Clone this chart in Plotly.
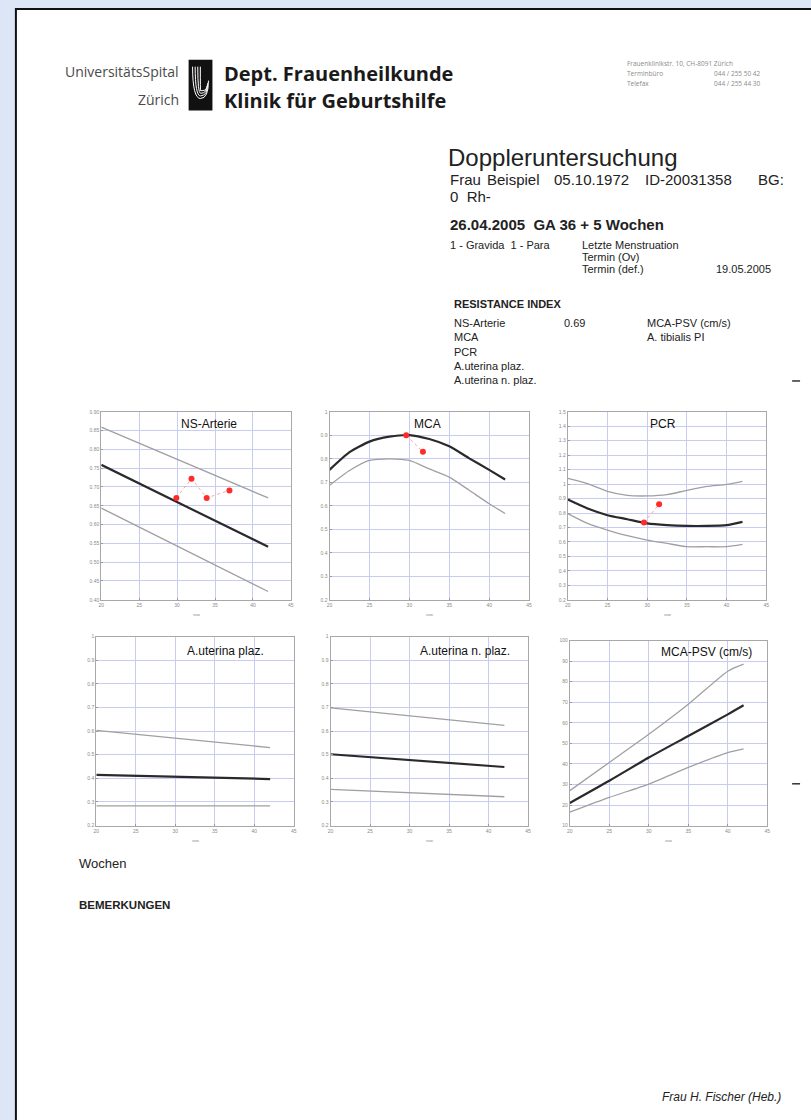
import plotly.graph_objects as go

W, H = 811, 1120

# ---------------- data ----------------
weeks = [20, 22.5, 25, 27.5, 30, 32.5, 35, 37.5, 40, 42]
weeks_lin = [20, 42]
weeks_psv = [20, 25, 30, 35, 40, 42]

ns_upper = [0.859, 0.671]
ns_mean = [0.759, 0.541]
ns_lower = [0.644, 0.422]
ns_pts_x = [29.9, 31.9, 33.9, 36.9]
ns_pts_y = [0.671, 0.722, 0.671, 0.691]

mca_mean = [0.753, 0.828, 0.873, 0.894, 0.901, 0.884, 0.853, 0.802, 0.753, 0.712]
mca_lower = [0.687, 0.750, 0.793, 0.800, 0.793, 0.757, 0.722, 0.666, 0.609, 0.567]
mca_pts_x = [29.6, 31.7]
mca_pts_y = [0.90, 0.83]

pcr_upper = [1.040, 1.003, 0.950, 0.922, 0.918, 0.927, 0.957, 0.984, 0.998, 1.019]
pcr_mean = [0.893, 0.831, 0.785, 0.757, 0.728, 0.716, 0.711, 0.711, 0.716, 0.739]
pcr_lower = [0.796, 0.728, 0.682, 0.643, 0.613, 0.590, 0.567, 0.567, 0.567, 0.583]
pcr_pts_x = [29.6, 31.5]
pcr_pts_y = [0.734, 0.86]

utp_upper = [0.603, 0.530]
utp_mean = [0.415, 0.397]
utp_lower = [0.283, 0.283]

utn_upper = [0.698, 0.624]
utn_mean = [0.502, 0.448]
utn_lower = [0.353, 0.322]

psv_upper = [27.0, 40.7, 54.4, 69.0, 85.1, 88.5]
psv_mean = [21.0, 31.8, 43.1, 53.6, 64.1, 68.5]
psv_lower = [16.5, 23.7, 30.2, 38.3, 45.5, 47.3]

x_ticks = [20, 25, 30, 35, 40, 45]

# ---------------- helpers ----------------
def fx(x):
    return x / W

def fy(y):
    return 1 - y / H

FONT = "Liberation Sans, Arial, sans-serif"
annotations = []
shapes = []

def txt(text, x, y, size, color="#222", xanchor="left", family=FONT, yanchor="middle"):
    annotations.append(dict(text=text, x=fx(x), y=fy(y), xref="paper", yref="paper",
                            xanchor=xanchor, yanchor=yanchor, showarrow=False,
                            font=dict(size=size, color=color, family=family)))

fig = go.Figure()

# panels: title, pixel box (x0, x1, y0, y1), y range, dtick, tickformat, series
panels = [
    ("NS-Arterie", (99, 290, 411, 600), [0.4, 0.9], 0.05, ".2f",
     [(weeks_lin, ns_upper, "gray"), (weeks_lin, ns_mean, "dark"), (weeks_lin, ns_lower, "gray")],
     (ns_pts_x, ns_pts_y), (208, 423)),
    ("MCA", (329, 530, 411, 600), [0.2, 1.0], 0.1, "",
     [(weeks, mca_mean, "dark"), (weeks, mca_lower, "gray")],
     (mca_pts_x, mca_pts_y), (428, 423)),
    ("PCR", (569, 769, 411, 600), [0.2, 1.5], 0.1, "",
     [(weeks, pcr_upper, "gray"), (weeks, pcr_mean, "dark"), (weeks, pcr_lower, "gray")],
     (pcr_pts_x, pcr_pts_y), (665, 423)),
    ("A.uterina plaz.", (94, 293, 637, 827), [0.2, 1.0], 0.1, "",
     [(weeks_lin, utp_upper, "gray"), (weeks_lin, utp_mean, "dark"), (weeks_lin, utp_lower, "gray")],
     None, (224, 651)),
    ("A.uterina n. plaz.", (330, 529, 637, 827), [0.2, 1.0], 0.1, "",
     [(weeks_lin, utn_upper, "gray"), (weeks_lin, utn_mean, "dark"), (weeks_lin, utn_lower, "gray")],
     None, (465, 651)),
    ("MCA-PSV (cm/s)", (571, 770, 641, 827), [10, 100], 10, "",
     [(weeks_psv, psv_upper, "gray"), (weeks_psv, psv_mean, "dark"), (weeks_psv, psv_lower, "gray")],
     None, (709, 652)),
]

# ---------------- page ----------------
shapes.append(dict(type="rect", xref="paper", yref="paper", x0=fx(13), x1=fx(840),
                   y0=fy(1140), y1=fy(6), fillcolor="white",
                   line=dict(color="#111", width=2), layer="below"))

layout_axes = {}
for i, (title, box, yr, dt, tf, series, pts, tpos) in enumerate(panels):
    n = "" if i == 0 else str(i + 1)
    xa, ya = "x" + n, "y" + n
    x0, x1, y0, y1 = box
    for xs, ys, kind in series:
        fig.add_trace(go.Scatter(
            x=xs, y=ys, mode="lines", xaxis=xa, yaxis=ya, showlegend=False,
            line=dict(color="#2a2a2a" if kind == "dark" else "#a0a0a0",
                      width=2.2 if kind == "dark" else 1.3, shape="spline", smoothing=0.6),
            hoverinfo="skip"))
    if pts:
        fig.add_trace(go.Scatter(
            x=pts[0], y=pts[1], mode="lines+markers", xaxis=xa, yaxis=ya, showlegend=False,
            line=dict(color="rgba(255,90,90,0.55)", width=1, dash="dot"),
            marker=dict(color="#ff2a2a", size=6)))
    axcommon = dict(showgrid=True, gridcolor="#c9ccf2", gridwidth=1, showline=True,
                    mirror=True, linecolor="#a8a8a8", linewidth=1, zeroline=False,
                    ticks="inside", ticklen=2, tickcolor="#999",
                    tickfont=dict(size=5, color="#8a8a8a", family=FONT))
    layout_axes["xaxis" + n] = dict(domain=[fx(x0), fx(x1)], range=[20, 45], tickvals=x_ticks,
                                    anchor=ya, **axcommon)
    layout_axes["yaxis" + n] = dict(domain=[fy(y1), fy(y0)], range=yr, tick0=yr[0], dtick=dt,
                                    tickformat=tf, anchor=xa, **axcommon)
    txt(title, tpos[0], tpos[1], 12, color="#111", xanchor="center")
    txt("ssw", (x0 + x1) / 2, y1 + 15, 4, color="#888", xanchor="center")

# ---------------- header ----------------
HEAD = "Open Sans, Noto Sans, sans-serif"
txt("UniversitätsSpital", 179, 69, 14, color="#4a4a4a", xanchor="right", family=HEAD)
txt("Zürich", 179, 97, 14, color="#4a4a4a", xanchor="right", family=HEAD)
shapes.append(dict(type="rect", xref="paper", yref="paper", x0=fx(187), x1=fx(211),
                   y0=fy(108), y1=fy(57), fillcolor="#111", line=dict(width=0)))
for k in range(4):
    off = k * 2.6
    path = "M {},{} Q {},{} {},{} Q {},{} {},{}".format(
        fx(191 + off), fy(64), fx(191 + off), fy(96 - off), fx(199), fy(96 - off),
        fx(207 - off * 0.3), fy(96 - off), fx(207 - off * 0.3), fy(78 + off))
    shapes.append(dict(type="path", xref="paper", yref="paper", path=path,
                       line=dict(color="white", width=1)))
txt("<b>Dept. Frauenheilkunde</b>", 221, 71, 20, color="#1a1a1a", family=HEAD)
txt("<b>Klinik für Geburtshilfe</b>", 221, 98, 20, color="#1a1a1a", family=HEAD)
txt("Frauenklinikstr. 10, CH-8091 Zürich", 627, 61, 6.5, color="#8a8a8a", family=HEAD)
txt("Terminbüro", 627, 71, 6.5, color="#8a8a8a", family=HEAD)
txt("044 / 255 50 42", 766, 71, 6.5, color="#8a8a8a", xanchor="right", family=HEAD)
txt("Telefax", 627, 81, 6.5, color="#8a8a8a", family=HEAD)
txt("044 / 255 44 30", 766, 81, 6.5, color="#8a8a8a", xanchor="right", family=HEAD)

# ---------------- report text ----------------
txt("Doppleruntersuchung", 446, 155, 24, color="#222")
txt("Frau", 448, 177, 15, color="#222")
txt("Beispiel", 486, 177, 15, color="#222")
txt("05.10.1972", 553, 177, 15, color="#222")
txt("ID-20031358", 645, 177, 15, color="#222")
txt("BG:", 789, 177, 15, color="#222", xanchor="right")
txt("0  Rh-", 448, 195, 15, color="#222")
txt("<b>26.04.2005  GA 36 + 5 Wochen</b>", 448, 223, 15, color="#222")
txt("1 - Gravida  1 - Para", 448, 243, 11, color="#222")
txt("Letzte Menstruation", 581, 243, 11, color="#222")
txt("Termin (Ov)", 581, 255, 11, color="#222")
txt("Termin (def.)", 581, 267, 11, color="#222")
txt("19.05.2005", 776, 267, 11, color="#222", xanchor="right")
txt("<b>RESISTANCE INDEX</b>", 452, 303, 11, color="#222")
txt("NS-Arterie", 452, 322, 11, color="#222")
txt("0.69", 563, 322, 11, color="#222")
txt("MCA-PSV (cm/s)", 647, 322, 11, color="#222")
txt("MCA", 452, 336, 11, color="#222")
txt("A. tibialis PI", 647, 336, 11, color="#222")
txt("PCR", 452, 351, 11, color="#222")
txt("A.uterina plaz.", 452, 365, 11, color="#222")
txt("A.uterina n. plaz.", 452, 379, 11, color="#222")

txt("Wochen", 75, 865, 13, color="#222")
txt("<b>BEMERKUNGEN</b>", 75, 907, 11.5, color="#222")
txt("<i>Frau H. Fischer (Heb.)</i>", 786, 1100, 12, color="#222", xanchor="right")

# small marks on the right edge
for yy in (380, 785):
    shapes.append(dict(type="line", xref="paper", yref="paper", x0=fx(795), x1=fx(803),
                       y0=fy(yy), y1=fy(yy), line=dict(color="#333", width=1.5)))

fig.update_layout(width=W, height=H, margin=dict(l=0, r=0, t=0, b=0),
                  paper_bgcolor="#dde6f6", plot_bgcolor="white",
                  annotations=annotations, shapes=shapes, showlegend=False,
                  **layout_axes)

fig.write_html("out.html", config={"displayModeBar": False, "staticPlot": True},
               post_script="document.body.style.margin='0';document.body.style.padding='0';"
                           "document.body.style.overflow='hidden';"
                           "document.documentElement.style.overflow='hidden';")
